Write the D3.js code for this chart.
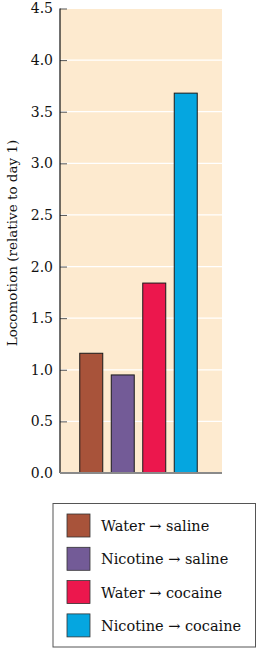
<!DOCTYPE html>
<html><head><meta charset="utf-8">
<script src="https://cdn.jsdelivr.net/npm/d3@7"></script>
<style>body{margin:0;background:#fff}svg{display:block}</style>
</head><body>
<script>
const categories = ["Water \u2192 saline", "Nicotine \u2192 saline", "Water \u2192 cocaine", "Nicotine \u2192 cocaine"];
const values = [1.16, 0.95, 1.84, 3.68];
const colors = ["#a8533a", "#735b97", "#ec174d", "#05a6e0"];
const tickValues = [0, 0.5, 1.0, 1.5, 2.0, 2.5, 3.0, 3.5, 4.0, 4.5];
const yTitle = "Locomotion (relative to day 1)";

const W = 257, H = 649;
const font = "'DejaVu Serif', 'Liberation Serif', serif";
const svg = d3.select("body").append("svg").attr("width", W).attr("height", H);

const pL = 60, pR = 222, pT = 8.5, pB = 473;
const y = d3.scaleLinear().domain([0, 4.5]).range([pB, pT]);
const x = d3.scaleBand().domain(categories).range([pL - 5, pR]).paddingInner(0.27).paddingOuter(0.786);

svg.append("rect").attr("x", pL).attr("y", pT).attr("width", pR - pL).attr("height", pB - pT).attr("fill", "#fdeacf");

svg.append("g").selectAll("line").data(tickValues.filter(d => d > 0)).join("line")
  .attr("x1", pL).attr("x2", pR).attr("y1", d => y(d)).attr("y2", d => y(d))
  .attr("stroke", "#fff").attr("stroke-width", 1.2);

svg.append("g").selectAll("rect").data(values).join("rect")
  .attr("x", (d, i) => x(categories[i])).attr("width", x.bandwidth())
  .attr("y", d => y(d)).attr("height", d => y(0) - y(d))
  .attr("fill", (d, i) => colors[i]).attr("stroke", "#1a1a1a").attr("stroke-width", 1);

const axis = d3.axisLeft(y).tickValues(tickValues).tickFormat(d3.format(".1f")).tickSize(-7).tickPadding(7);
const g = svg.append("g").attr("transform", `translate(${pL},0)`).call(axis);
g.select(".domain").remove();
g.selectAll(".tick line").attr("stroke", "#555");
g.selectAll(".tick text").attr("font-family", font).attr("font-size", 14).attr("fill", "#111");
svg.append("line").attr("x1", pL).attr("x2", pL).attr("y1", pT).attr("y2", pB).attr("stroke", "#111").attr("stroke-width", 1.2);
svg.append("line").attr("x1", pL).attr("x2", pR).attr("y1", pB).attr("y2", pB).attr("stroke", "#8a8a8a").attr("stroke-width", 2);

svg.append("text").attr("transform", `translate(17,243) rotate(-90)`).attr("text-anchor", "middle")
  .attr("font-family", font).attr("font-size", 13.5).attr("fill", "#111").text(yTitle);

// legend
svg.append("rect").attr("x", 53).attr("y", 503.5).attr("width", 202.5).attr("height", 143.5)
  .attr("fill", "#fff").attr("stroke", "#555").attr("stroke-width", 1);
const lg = svg.append("g").selectAll("g").data(categories).join("g")
  .attr("transform", (d, i) => `translate(67,${514 + i * 33.3})`);
lg.append("rect").attr("width", 23).attr("height", 23).attr("fill", (d, i) => colors[i]).attr("stroke", "#333").attr("stroke-width", 0.8);
lg.append("text").attr("x", 34).attr("y", 17).attr("font-family", font).attr("font-size", 14.5).attr("fill", "#111").text(d => d);
</script>
</body></html>
